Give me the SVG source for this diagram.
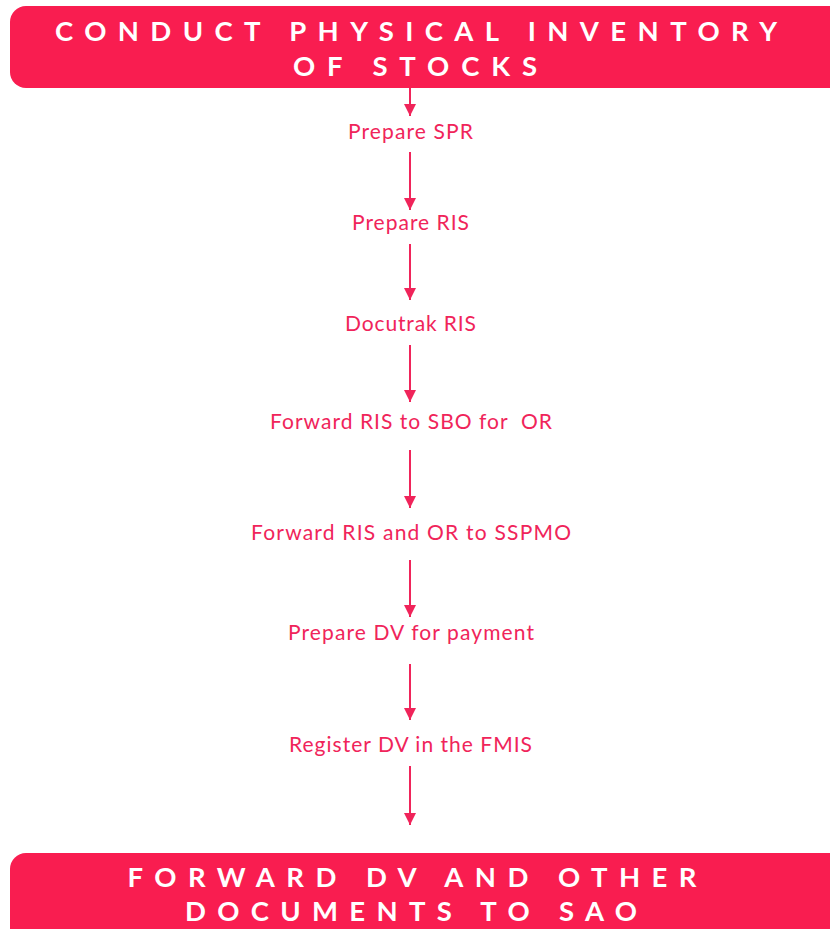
<svg xmlns="http://www.w3.org/2000/svg" width="830" height="929" viewBox="0 0 830 929">
<style>
.box{fill:#F91D50}
.title{font-family:Lato,"Liberation Sans",sans-serif;font-weight:bold;font-size:27.5px;fill:#fff;text-anchor:middle}
.step{font-family:Lato,"Liberation Sans",sans-serif;font-size:21px;fill:#F0245A;text-anchor:middle}
.conn line{stroke:#F0245A;stroke-width:2;marker-end:url(#ah)}
</style>
<defs>
<marker id="ah" viewBox="0 0 10 10" refX="10" refY="5" markerWidth="6" markerHeight="6" markerUnits="strokeWidth" orient="auto">
<path d="M0,0 L10,5 L0,10 z" fill="#F0245A"/>
</marker>
</defs>
<rect width="830" height="929" fill="#fff"/>
<g id="start">
<rect class="box" x="10" y="6" width="840" height="82" rx="16"/>
<text class="title" x="416" y="41" textLength="722" lengthAdjust="spacing">CONDUCT PHYSICAL INVENTORY</text>
<text class="title" x="415" y="76" textLength="244" lengthAdjust="spacing">OF STOCKS</text>
</g>
<g id="s1"><text class="step" x="410.5" y="139" textLength="125" lengthAdjust="spacing">Prepare SPR</text></g>
<g id="s2"><text class="step" x="410.5" y="230" textLength="117" lengthAdjust="spacing">Prepare RIS</text></g>
<g id="s3"><text class="step" x="410.5" y="331" textLength="131" lengthAdjust="spacing">Docutrak RIS</text></g>
<g id="s4"><text class="step" x="411" y="429" textLength="282" lengthAdjust="spacing" xml:space="preserve">Forward RIS to SBO for  OR</text></g>
<g id="s5"><text class="step" x="411" y="540" textLength="320" lengthAdjust="spacing">Forward RIS and OR to SSPMO</text></g>
<g id="s6"><text class="step" x="411" y="640" textLength="246" lengthAdjust="spacing">Prepare DV for payment</text></g>
<g id="s7"><text class="step" x="410.5" y="752" textLength="243" lengthAdjust="spacing">Register DV in the FMIS</text></g>
<g id="end">
<rect class="box" x="10" y="853" width="840" height="100" rx="16"/>
<text class="title" x="412" y="887" textLength="569" lengthAdjust="spacing">FORWARD DV AND OTHER</text>
<text class="title" x="411" y="921" textLength="452" lengthAdjust="spacing">DOCUMENTS TO SAO</text>
</g>
<g id="connectors" class="conn">
<line x1="410" y1="88" x2="410" y2="116"/>
<line x1="410" y1="152" x2="410" y2="210"/>
<line x1="410" y1="244" x2="410" y2="300"/>
<line x1="410" y1="345" x2="410" y2="402"/>
<line x1="410" y1="450" x2="410" y2="508"/>
<line x1="410" y1="560" x2="410" y2="617"/>
<line x1="410" y1="664" x2="410" y2="720"/>
<line x1="410" y1="766" x2="410" y2="825"/>
</g>
</svg>
